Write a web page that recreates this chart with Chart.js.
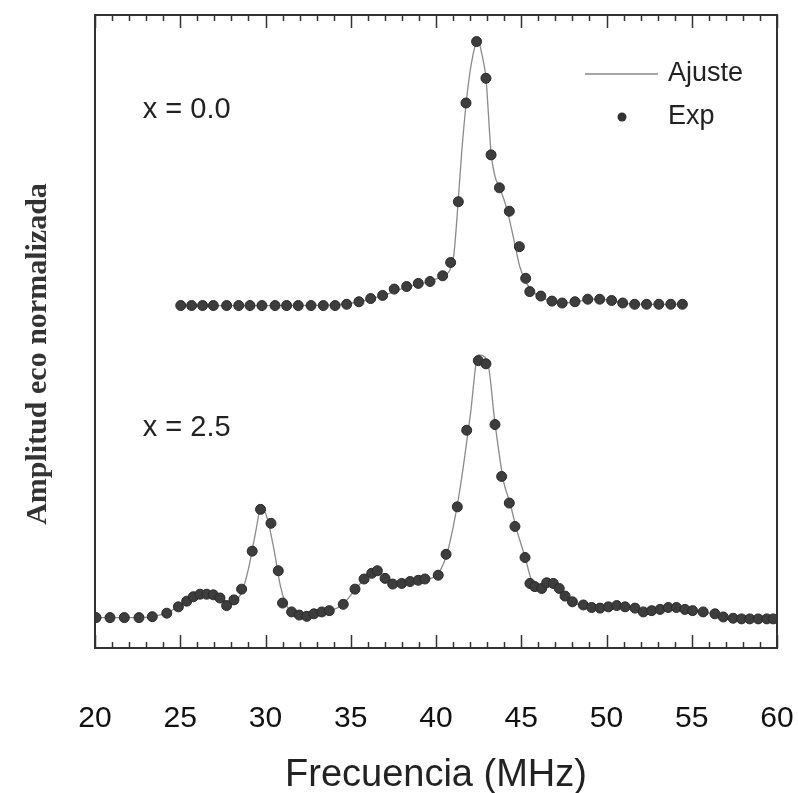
<!DOCTYPE html>
<html lang="es">
<head>
    <meta charset="UTF-8">
    <title>Amplitud eco normalizada</title>
    <style>
        body { margin: 0; background: #fff; }
    </style>
</head>
<body>

    <canvas id="myChart" width="798" height="793"></canvas>

    <script src="https://cdn.jsdelivr.net/npm/chart.js"></script>
    <script>
        // x = 0.0, experimental points (MHz, amplitude)
        const expTopX = [25.03, 25.67, 26.31, 26.94, 27.72, 28.43, 29.09, 29.79, 30.56, 31.24, 31.92, 32.67, 33.39, 34.08,
            34.76, 35.48, 36.17, 36.87, 37.55, 38.28, 38.96, 39.65, 40.39, 40.86, 41.31, 41.76, 42.38, 42.93, 43.23, 43.72,
            44.30, 44.89, 45.26, 45.50, 46.15, 46.80, 47.40, 48.15, 48.90, 49.60, 50.30, 50.95, 51.65, 52.35, 53.07, 53.77, 54.45];
        const expTopY = [54.1, 54.1, 54.1, 54.1, 54.1, 54.1, 54.1, 54.1, 54.1, 54.1, 54.1, 54.1, 54.1, 54.1,
            54.3, 54.7, 55.2, 55.7, 56.7, 57.1, 57.6, 57.9, 58.8, 60.9, 70.5, 86.1, 95.8, 90.0, 77.9, 72.7,
            69.0, 63.4, 58.4, 56.3, 55.6, 54.8, 54.5, 54.7, 55.1, 55.1, 54.9, 54.5, 54.3, 54.3, 54.3, 54.3, 54.3];

        // x = 0.0, fit curve
        const fitTopX = [25.0, 30.0, 34.0, 35.5, 37.0, 38.3, 39.6, 40.4, 41.0, 41.3, 41.5, 41.88, 42.28, 42.48, 42.68,
            42.93, 43.23, 43.46, 43.75, 44.14, 44.53, 44.92, 45.31, 45.9, 46.8, 47.6, 48.4, 49.3, 50.3, 51.2, 52.5, 54.5];
        const fitTopY = [54.1, 54.1, 54.2, 54.7, 55.8, 57.0, 57.9, 58.8, 61.3, 70.5, 78.1, 88.7, 95.0, 95.9, 93.9,
            90.0, 78.2, 74.5, 72.6, 69.5, 65.0, 60.2, 57.6, 55.8, 54.8, 54.5, 54.8, 55.1, 54.9, 54.4, 54.3, 54.3];

        // x = 2.5, experimental points
        const expBotX = [20.06, 20.88, 21.72, 22.58, 23.36, 24.21, 24.89, 25.38, 25.77, 26.16, 26.55, 26.94, 27.33, 27.72,
            28.15, 28.60, 29.22, 29.71, 30.32, 30.75, 31.00, 31.53, 31.98, 32.42, 32.84, 33.30, 33.74, 34.56, 35.25, 35.78,
            36.23, 36.56, 37.01, 37.46, 37.99, 38.48, 38.96, 39.35, 40.13, 40.59, 41.25, 41.80, 42.48, 42.93, 43.46, 43.85,
            44.30, 44.63, 45.22, 45.51, 45.80, 46.20, 46.49, 46.88, 47.23, 47.57, 48.00, 48.64, 49.13, 49.62, 50.11, 50.60,
            51.09, 51.67, 52.16, 52.65, 53.14, 53.62, 54.10, 54.60, 55.05, 55.67, 56.36, 56.85, 57.43, 57.92, 58.40, 58.90,
            59.40, 59.78];
        const expBotY = [4.8, 4.8, 4.8, 4.8, 4.95, 5.5, 6.5, 7.4, 8.1, 8.5, 8.5, 8.4, 7.9, 6.7,
            7.6, 9.3, 15.3, 21.9, 19.7, 12.2, 7.1, 5.7, 5.2, 5.0, 5.4, 5.7, 5.9, 6.9, 9.3, 10.9,
            11.8, 12.2, 11.0, 10.1, 10.2, 10.5, 10.7, 10.9, 11.5, 14.8, 22.3, 34.4, 45.4, 44.9, 35.3, 27.1,
            22.9, 19.2, 14.3, 10.2, 9.7, 9.4, 10.3, 10.2, 9.4, 8.2, 7.3, 6.8, 6.4, 6.3, 6.5, 6.7,
            6.5, 6.3, 5.7, 5.9, 6.1, 6.4, 6.4, 6.1, 5.9, 5.7, 5.4, 4.9, 4.7, 4.6, 4.6, 4.6,
            4.6, 4.6];

        // x = 2.5, fit curve
        const fitBotX = [20.0, 22.5, 23.4, 24.2, 24.9, 25.4, 25.8, 26.2, 26.6, 27.0, 27.4, 27.8, 28.2, 28.6, 29.0, 29.4,
            29.75, 30.1, 30.5, 30.9, 31.3, 31.8, 32.4, 33.0, 33.7, 34.5, 35.2, 35.8, 36.4, 36.8, 37.3, 37.8, 38.5, 39.3,
            40.0, 40.6, 41.0, 41.4, 42.0, 42.48, 43.0, 43.46, 43.95, 44.34, 44.74, 45.22, 45.6, 46.0, 46.5, 46.9, 47.3,
            47.8, 48.3, 49.0, 49.8, 50.6, 51.3, 52.1, 53.0, 54.0, 55.0, 56.0, 57.0, 58.0, 60.0];
        const fitBotY = [4.8, 4.8, 5.0, 5.5, 6.6, 7.5, 8.3, 8.8, 8.9, 8.6, 7.9, 7.2, 7.4, 8.8, 12.5, 18.0,
            22.3, 20.5, 15.5, 9.5, 6.4, 5.2, 4.8, 5.2, 5.8, 6.8, 9.0, 10.9, 12.0, 11.7, 10.5, 10.1, 10.4, 10.8,
            11.4, 14.5, 19.0, 25.0, 36.5, 46.3, 45.5, 35.5, 26.5, 22.9, 18.6, 14.4, 10.7, 9.6, 10.2, 10.1, 9.3,
            7.8, 6.9, 6.4, 6.3, 6.6, 6.4, 5.8, 6.1, 6.3, 5.9, 5.5, 4.8, 4.6, 4.6];

        const labels = [
            { text: 'x = 0.0', x: 22.8, y: 85.0 },
            { text: 'x = 2.5', x: 22.8, y: 34.8 }
        ];
        const yTitle = 'Amplitud eco normalizada';
        const xTitle = 'Frecuencia (MHz)';

        const pts = (xs, ys) => xs.map((x, i) => ({ x: x, y: ys[i] }));

        const sans = "'Liberation Sans', Arial, sans-serif";

        // frame, inward ticks, annotations, legend and y title
        const decor = {
            id: 'decor',
            afterDraw(chart) {
                const ctx = chart.ctx;
                const a = chart.chartArea;
                const xs = chart.scales.x;
                const ys = chart.scales.y;
                ctx.save();
                ctx.strokeStyle = '#333';
                ctx.lineWidth = 2;
                ctx.strokeRect(a.left, a.top, a.right - a.left, a.bottom - a.top);

                ctx.lineWidth = 1.5;
                for (let v = 20; v <= 60; v++) {
                    const px = Math.round(xs.getPixelForValue(v)) + 0.5;
                    const len = v % 5 === 0 ? 13 : 6;
                    ctx.beginPath();
                    ctx.moveTo(px, a.bottom);
                    ctx.lineTo(px, a.bottom - len);
                    ctx.moveTo(px, a.top);
                    ctx.lineTo(px, a.top + len);
                    ctx.stroke();
                }

                ctx.fillStyle = '#222';
                ctx.font = '29px ' + sans;
                ctx.textBaseline = 'middle';
                ctx.textAlign = 'left';
                labels.forEach(l => {
                    ctx.fillText(l.text, xs.getPixelForValue(l.x), ys.getPixelForValue(l.y));
                });

                // legend
                const lx = a.right - 192, ly = a.top + 59;
                ctx.strokeStyle = '#888';
                ctx.lineWidth = 1.5;
                ctx.beginPath();
                ctx.moveTo(lx, ly);
                ctx.lineTo(lx + 73, ly);
                ctx.stroke();
                ctx.font = '27px ' + sans;
                ctx.fillText('Ajuste', lx + 83, ly);
                ctx.fillStyle = '#333';
                ctx.beginPath();
                ctx.arc(lx + 37, ly + 43, 4.5, 0, Math.PI * 2);
                ctx.fill();
                ctx.fillStyle = '#222';
                ctx.fillText('Exp', lx + 83, ly + 43);

                // y title
                ctx.translate(38, 354);
                ctx.rotate(-Math.PI / 2);
                ctx.textAlign = 'center';
                ctx.font = "bold 30px 'Liberation Serif', 'Times New Roman', serif";
                ctx.fillStyle = '#333';
                ctx.fillText(yTitle, 0, 0);
                ctx.restore();
            }
        };

        const pointStyle = {
            showLine: false,
            pointRadius: 5,
            pointBackgroundColor: '#3d3d3d',
            pointBorderColor: '#2a2a2a',
            pointBorderWidth: 1
        };
        const lineStyle = {
            borderColor: '#8a8a8a',
            borderWidth: 1.3,
            pointRadius: 0,
            cubicInterpolationMode: 'monotone'
        };

        new Chart(document.getElementById('myChart'), {
            type: 'scatter',
            data: {
                datasets: [
                    Object.assign({ label: 'Exp', data: pts(expTopX, expTopY) }, pointStyle),
                    Object.assign({ label: 'Exp', data: pts(expBotX, expBotY) }, pointStyle),
                    Object.assign({ label: 'Ajuste', type: 'line', data: pts(fitTopX, fitTopY) }, lineStyle),
                    Object.assign({ label: 'Ajuste', type: 'line', data: pts(fitBotX, fitBotY) }, lineStyle)
                ]
            },
            options: {
                responsive: false,
                devicePixelRatio: 1,
                animation: false,
                layout: { padding: { top: 15, right: 21, left: 0, bottom: 0 } },
                plugins: { legend: { display: false }, tooltip: { enabled: false } },
                scales: {
                    x: {
                        type: 'linear',
                        min: 20,
                        max: 60,
                        grid: { display: false, drawTicks: false },
                        border: { display: false },
                        ticks: {
                            stepSize: 5,
                            padding: 53,
                            color: '#111',
                            font: { family: sans, size: 30 }
                        },
                        title: {
                            display: true,
                            text: xTitle,
                            color: '#222',
                            padding: { top: 0, bottom: -2 },
                            font: { family: sans, size: 38, lineHeight: 1 }
                        },
                        afterFit(scale) {
                            scale.height = 145;
                            scale.paddingLeft = 0;
                            scale.paddingRight = 0;
                        }
                    },
                    y: {
                        min: 0,
                        max: 100,
                        grid: { display: false, drawTicks: false },
                        border: { display: false },
                        ticks: { display: false },
                        afterFit(scale) { scale.width = 95; }
                    }
                }
            },
            plugins: [decor]
        });
    </script>

</body>
</html>
